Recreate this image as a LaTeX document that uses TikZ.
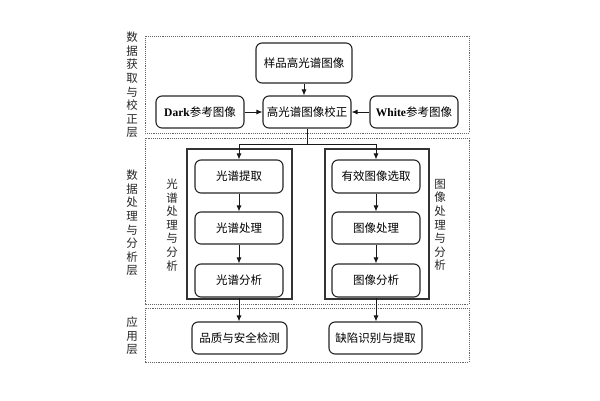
\documentclass[tikz,border=0pt]{standalone}
\usepackage{fontspec}
\setmainfont{Liberation Serif}
\newfontfamily\cjk{Noto Sans CJK SC}
\newcommand{\lat}[1]{{\rmfamily\bfseries #1}}
\usetikzlibrary{arrows.meta}
\begin{document}
\begin{tikzpicture}[x=1pt,y=-1pt,
  box/.style={draw=black!85,line width=1.1pt,rounded corners=6pt,inner sep=0pt,
    font=\cjk\fontsize{11.5}{13}\selectfont,text=black},
  layer/.style={draw=black!60,densely dotted,line width=0.9pt},
  frame/.style={draw=black!80,line width=1.1pt},
  vlab/.style={align=center,inner sep=0pt,font=\cjk\fontsize{11.5}{13.6}\selectfont,text=black!85},
  arr/.style={-{Latex[length=6pt,width=5pt]},line width=0.9pt,draw=black!90}]
\useasboundingbox[fill=white] (0,0) rectangle (600,400);
% layer boxes
\draw[layer] (145,36) rectangle (469,133);
\draw[layer] (145,138) rectangle (469,304);
\draw[layer] (145,308) rectangle (469,362);
% inner frames
\draw[frame] (187,149) rectangle (292,299);
\draw[frame] (325,149) rectangle (429,299);
% layer labels
\node[vlab] (l1) at (132,85) {数\\据\\获\\取\\与\\校\\正\\层};
\node[vlab] (l2) at (132,223) {数\\据\\处\\理\\与\\分\\析\\层};
\node[vlab] (l3) at (132,336) {应\\用\\层};
\node[vlab] (v1) at (172,225) {光\\谱\\处\\理\\与\\分\\析};
\node[vlab] (v2) at (440,225) {图\\像\\处\\理\\与\\分\\析};
% nodes
\node[box,minimum width=96pt,minimum height=40pt] (top) at (304,63) {样品高光谱图像};
\node[box,minimum width=88pt,minimum height=32pt] (corr) at (307,112) {高光谱图像校正};
\node[box,minimum width=88pt,minimum height=32pt] (dark) at (200,112) {\lat{Dark}参考图像};
\node[box,minimum width=88pt,minimum height=32pt] (white) at (414,112) {\lat{White}参考图像};
\node[box,minimum width=88pt,minimum height=33pt] (e1) at (239,176.5) {光谱提取};
\node[box,minimum width=88pt,minimum height=32pt] (e2) at (239,228) {光谱处理};
\node[box,minimum width=88pt,minimum height=33pt] (e3) at (239,280.5) {光谱分析};
\node[box,minimum width=88pt,minimum height=33pt] (f1) at (376,176.5) {有效图像选取};
\node[box,minimum width=88pt,minimum height=32pt] (f2) at (376,228) {图像处理};
\node[box,minimum width=88pt,minimum height=33pt] (f3) at (376,280.5) {图像分析};
\node[box,minimum width=95pt,minimum height=32pt] (a1) at (239.5,338) {品质与安全检测};
\node[box,minimum width=93pt,minimum height=32pt] (a2) at (375.5,338) {缺陷识别与提取};
\coordinate (j) at (307,144);
% connectors
\draw[arr] (top) -- (top|-corr.north);
\draw[arr] (dark) -- (corr);
\draw[arr] (white) -- (corr);
\draw[line width=0.9pt,draw=black!90] (corr.south) -- (j);
\draw[arr] (j) -| (e1.north);
\draw[arr] (j) -| (f1.north);
\draw[arr] (e1) -- (e2);
\draw[arr] (e2) -- (e3);
\draw[arr] (f1) -- (f2);
\draw[arr] (f2) -- (f3);
\draw[arr] (e3) -- (e3|-a1.north);
\draw[arr] (f3) -- (f3|-a2.north);
\end{tikzpicture}
\end{document}
